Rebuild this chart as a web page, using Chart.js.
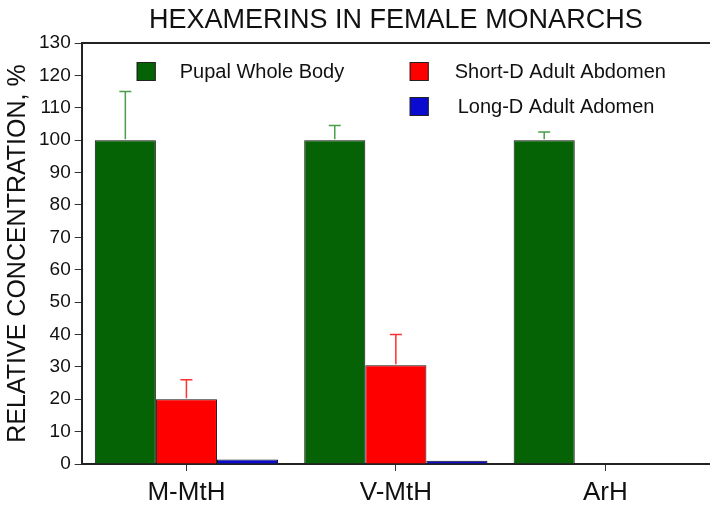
<!DOCTYPE html>
<html>
<head>
<meta charset="utf-8">
<script src="https://cdn.jsdelivr.net/npm/chart.js@4.4.0/dist/chart.umd.min.js"></script>
<style>
  html, body { margin: 0; padding: 0; background: #fff; }
  #wrap { width: 710px; height: 506px; position: relative; }
</style>
</head>
<body>
<div id="wrap"><canvas id="chart"></canvas></div>
<script>
// chart data
const categories = ["M-MtH", "V-MtH", "ArH"];
const seriesNames = ["Pupal Whole Body", "Short-D Adult Abdomen", "Long-D Adult Adomen"];
const pupalValues = [100, 100, 100];
const shortDValues = [20, 30.5, 0];
const longDValues = [1.4, 1.0, 0];
// upper error (added on top of the bar)
const pupalErrors = [15, 4.5, 2.5];
const shortDErrors = [6, 9.5, 0];
const longDErrors = [0, 0, 0];

const barColors = ["#056305", "#ff0000", "#0a0ad0"];
const errColors = ["#4a9e4a", "#ff3030", "#2020d0"];
const FONT = "'Liberation Sans', Arial, sans-serif";

// draws upward-only error bars from the data via the scales
const errorBars = {
  id: "errorBars",
  afterDatasetsDraw(chart) {
    const ctx = chart.ctx;
    const yScale = chart.scales.y;
    chart.data.datasets.forEach((ds, i) => {
      const meta = chart.getDatasetMeta(i);
      meta.data.forEach((bar, j) => {
        const err = ds.errors[j];
        if (!err) return;
        const top = yScale.getPixelForValue(ds.data[j] + err);
        const base = yScale.getPixelForValue(ds.data[j]);
        ctx.save();
        ctx.strokeStyle = errColors[i];
        ctx.lineWidth = 1.5;
        ctx.beginPath();
        ctx.moveTo(bar.x, base - 1);
        ctx.lineTo(bar.x, top);
        ctx.moveTo(bar.x - 6, top);
        ctx.lineTo(bar.x + 6, top);
        ctx.stroke();
        ctx.restore();
      });
    });
  }
};

// title, top frame line and the in-plot legend
const decorations = {
  id: "decorations",
  afterDraw(chart) {
    const ctx = chart.ctx;
    const a = chart.chartArea;
    ctx.save();
    ctx.strokeStyle = "#222";
    ctx.lineWidth = 2;
    ctx.beginPath();
    ctx.moveTo(a.left, a.top);
    ctx.lineTo(chart.width, a.top);
    ctx.stroke();

    ctx.fillStyle = "#111";
    ctx.font = "27px " + FONT;
    ctx.textAlign = "center";
    ctx.textBaseline = "middle";
    ctx.fillText("HEXAMERINS IN FEMALE MONARCHS", (a.left + chart.width) / 2, 21);

    const items = [
      { x: a.left + 55, y: a.top + 28, tx: a.left + 98 },
      { x: a.left + 328, y: a.top + 28, tx: a.left + 373 },
      { x: a.left + 328, y: a.top + 63, tx: a.left + 376 }
    ];
    ctx.font = "20px " + FONT;
    ctx.textAlign = "left";
    items.forEach((it, i) => {
      ctx.fillStyle = barColors[i];
      ctx.fillRect(it.x, it.y - 9, 19, 19);
      ctx.strokeStyle = "#222";
      ctx.lineWidth = 1;
      ctx.strokeRect(it.x + 0.5, it.y - 8.5, 18, 18);
      ctx.fillStyle = "#111";
      ctx.fillText(seriesNames[i], it.tx, it.y + 1);
    });
    ctx.restore();
  }
};

const makeSet = (i, data, errors) => ({
  label: seriesNames[i],
  data: data,
  errors: errors,
  backgroundColor: barColors[i],
  borderColor: "#111",
  borderWidth: 1,
  borderSkipped: "bottom",
  categoryPercentage: 0.875,
  barPercentage: 1.0
});

new Chart(document.getElementById("chart"), {
  type: "bar",
  data: {
    labels: categories,
    datasets: [
      makeSet(0, pupalValues, pupalErrors),
      makeSet(1, shortDValues, shortDErrors),
      makeSet(2, longDValues, longDErrors)
    ]
  },
  options: {
    responsive: true,
    maintainAspectRatio: false,
    animation: false,
    layout: { padding: { top: 43, right: 0, left: 3, bottom: 0 } },
    plugins: {
      legend: { display: false },
      title: { display: false },
      tooltip: { enabled: false }
    },
    scales: {
      x: {
        offset: true,
        afterFit: (scale) => { scale.height = 42; },
        grid: { offset: false, drawOnChartArea: false, drawTicks: true, tickLength: 7, color: "#333" },
        border: { display: true, color: "#222", width: 2 },
        ticks: { color: "#111", padding: 6, font: { size: 26, family: FONT } }
      },
      y: {
        min: 0,
        max: 130,
        ticks: { stepSize: 10, color: "#111", padding: 4, font: { size: 19, family: FONT } },
        grid: { drawOnChartArea: false, drawTicks: true, tickLength: 7, color: "#333" },
        border: { display: true, color: "#222", width: 2 },
        title: {
          display: true,
          text: "RELATIVE CONCENTRATION, %",
          color: "#111",
          padding: { top: 0, bottom: 2 },
          font: { size: 25, family: FONT }
        }
      }
    }
  },
  plugins: [errorBars, decorations]
});
</script>
</body>
</html>
